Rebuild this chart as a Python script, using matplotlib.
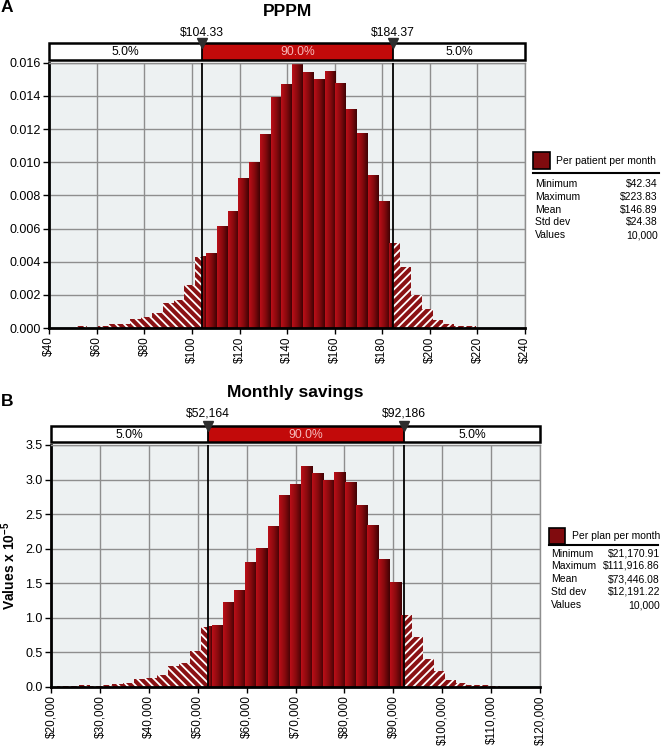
import numpy as np
import matplotlib
matplotlib.use('Agg')
import matplotlib.pyplot as plt
from matplotlib.colors import LinearSegmentedColormap
from matplotlib.patches import Rectangle

plt.rcParams['font.family'] = ['Liberation Sans', 'DejaVu Sans']
plt.rcParams['hatch.linewidth'] = 1.3
plt.rcParams['mathtext.fontset'] = 'custom'
plt.rcParams['mathtext.rm'] = 'Liberation Sans'
plt.rcParams['mathtext.bf'] = 'Liberation Sans:bold'

# ---------------- data ----------------
pppm_min, pppm_max = 42.34, 223.83
pppm_p5, pppm_p95 = 104.33, 184.37
pppm_density = [0.00003, 0.00003, 0.00010, 0.00003, 0.00010, 0.00025, 0.00025, 0.00052,
                0.00068, 0.00093, 0.00149, 0.00169, 0.00260, 0.00430, 0.00450, 0.00610,
                0.00700, 0.00900, 0.01000, 0.01165, 0.01390, 0.01467, 0.01598, 0.01542,
                0.01497, 0.01548, 0.01477, 0.01316, 0.01170, 0.00920, 0.00763, 0.00510,
                0.00366, 0.00199, 0.00113, 0.00048, 0.00024, 0.00012, 0.00012, 0.00003]
pppm_xticks = [40, 60, 80, 100, 120, 140, 160, 180, 200, 220, 240]
pppm_xticklabels = ['$40', '$60', '$80', '$100', '$120', '$140', '$160', '$180', '$200', '$220', '$240']
pppm_yticks = [0.000, 0.002, 0.004, 0.006, 0.008, 0.010, 0.012, 0.014, 0.016]
pppm_yticklabels = ['0.000', '0.002', '0.004', '0.006', '0.008', '0.010', '0.012', '0.014', '0.016']
pppm_p_labels = ['$104.33', '$184.37']
pppm_legend = 'Per patient per month'
pppm_stat_names = ['Minimum', 'Maximum', 'Mean', 'Std dev', 'Values']
pppm_stat_values = ['$42.34', '$223.83', '$146.89', '$24.38', '10,000']

sav_min, sav_max = 21170.91, 111916.86
sav_p5, sav_p95 = 52164, 92186
sav_density = [0.01, 0.01, 0.025, 0.01, 0.02, 0.035, 0.05, 0.107, 0.13, 0.17,
               0.30, 0.34, 0.51, 0.87, 0.894, 1.22, 1.40, 1.81, 2.005, 2.33,
               2.78, 2.93, 3.19, 3.09, 2.99, 3.10, 2.96, 2.63, 2.34, 1.84,
               1.51, 1.04, 0.725, 0.40, 0.23, 0.097, 0.05, 0.025, 0.025, 0.01]
sav_xticks = [20000, 30000, 40000, 50000, 60000, 70000, 80000, 90000, 100000, 110000, 120000]
sav_xticklabels = ['$20,000', '$30,000', '$40,000', '$50,000', '$60,000', '$70,000',
                   '$80,000', '$90,000', '$100,000', '$110,000', '$120,000']
sav_yticks = [0.0, 0.5, 1.0, 1.5, 2.0, 2.5, 3.0, 3.5]
sav_yticklabels = ['0.0', '0.5', '1.0', '1.5', '2.0', '2.5', '3.0', '3.5']
sav_p_labels = ['$52,164', '$92,186']
sav_legend = 'Per plan per month'
sav_stat_names = ['Minimum', 'Maximum', 'Mean', 'Std dev', 'Values']
sav_stat_values = ['$21,170.91', '$111,916.86', '$73,446.08', '$12,191.22', '10,000']

tail_pct = ['5.0%', '90.0%', '5.0%']

# ---------------- layout helpers ----------------
W, H = 661, 746
fig = plt.figure(figsize=(W / 100, H / 100), dpi=100)

def fx(px):
    return px / W

def fy(py):
    return 1 - py / H

grad_cmap = LinearSegmentedColormap.from_list('bar', ['#bb0f18', '#880a0e', '#400204'])
grad = np.linspace(0, 1, 64).reshape(1, -1)
HATCH_FC = '#8a1214'
GRID = '#8e8e8e'
BG = '#edf1f2'
FS = 8.7


def draw_panel(left, right, top, bottom, box_top, box_bot, vmin, vmax, dens, p5, p95,
               xticks, xtl, yticks, ytl, ylim, plabels, plabel_y, title, title_y,
               letter, letter_y):
    ax = fig.add_axes([fx(left), fy(bottom), fx(right) - fx(left), fy(top) - fy(bottom)])
    ax.set_facecolor(BG)
    n = len(dens)
    edges = vmin + (vmax - vmin) / n * np.arange(n + 1)
    for i, h in enumerate(dens):
        a, b = edges[i], edges[i + 1]
        lo, hi = a, min(b, p5)
        if hi > lo:
            ax.add_patch(Rectangle((lo, 0), hi - lo, h, facecolor=HATCH_FC, edgecolor='white',
                                   linewidth=0, hatch='\\\\\\\\', zorder=2))
        lo, hi = max(a, p5), min(b, p95)
        if hi > lo:
            ax.imshow(grad, extent=[lo, hi, 0, h], aspect='auto', cmap=grad_cmap,
                      interpolation='bilinear', zorder=2)
        lo, hi = max(a, p95), b
        if hi > lo:
            ax.add_patch(Rectangle((lo, 0), hi - lo, h, facecolor=HATCH_FC, edgecolor='white',
                                   linewidth=0, hatch='////', zorder=2))
    ax.set_xlim(xticks[0], xticks[-1])
    ax.set_ylim(*ylim)
    ax.set_aspect('auto')
    ax.set_xticks(xticks)
    ax.set_xticklabels(xtl, rotation=90, fontsize=8.5)
    ax.set_yticks(yticks)
    ax.set_yticklabels(ytl, fontsize=9)
    ax.grid(True, color=GRID, linewidth=1, zorder=1)
    ax.set_axisbelow(True)
    ax.tick_params(direction='out', length=4, width=1, color='black', pad=2)
    for s in ['left', 'bottom']:
        ax.spines[s].set_linewidth(2)
        ax.spines[s].set_color('black')
    for s in ['top', 'right']:
        ax.spines[s].set_linewidth(1)
        ax.spines[s].set_color(GRID)
    ax.axvline(p5, color='black', linewidth=1.3, zorder=5)
    ax.axvline(p95, color='black', linewidth=1.3, zorder=5)

    # percentile box
    bax = fig.add_axes([fx(left), fy(box_bot), fx(right) - fx(left), fy(box_top) - fy(box_bot)])
    bax.set_xlim(xticks[0], xticks[-1])
    bax.set_ylim(0, 1)
    bax.axis('off')
    x0, x1 = xticks[0], xticks[-1]
    bax.add_patch(Rectangle((x0, 0), p5 - x0, 1, facecolor='white', edgecolor='none'))
    bax.add_patch(Rectangle((p5, 0), p95 - p5, 1, facecolor='#c20a0a', edgecolor='none'))
    bax.add_patch(Rectangle((p95, 0), x1 - p95, 1, facecolor='white', edgecolor='none'))
    bax.add_patch(Rectangle((x0, 0), x1 - x0, 1, facecolor='none', edgecolor='black',
                            linewidth=1.8, clip_on=False))
    bax.plot([p5, p5], [0, 1], color='black', lw=1.3)
    bax.plot([p95, p95], [0, 1], color='black', lw=1.3)
    bax.text((x0 + p5) / 2, 0.45, tail_pct[0], ha='center', va='center', fontsize=FS)
    bax.text((p5 + p95) / 2, 0.45, tail_pct[1], ha='center', va='center', fontsize=FS,
             color='#f6b8b8')
    bax.text((p95 + x1) / 2, 0.45, tail_pct[2], ha='center', va='center', fontsize=FS)
    bax.plot([p5, p95], [1, 1], linestyle='none', marker='v', markersize=7.5,
             color='#2e2e2e', clip_on=False, zorder=6)
    for p, lab in zip([p5, p95], plabels):
        xf = fig.transFigure.inverted().transform(bax.transData.transform((p, 0)))[0]
        fig.text(xf, fy(plabel_y), lab, ha='center', va='center', fontsize=FS)
    fig.text(fx((left + right) / 2), fy(title_y), title, ha='center', va='center',
             fontsize=12.5, fontweight='bold')
    fig.text(fx(1), fy(letter_y), letter, ha='left', va='center', fontsize=12.5,
             fontweight='bold')
    return ax


def draw_legend(sq_x, sq_y, sq_s, text_x, line_y, line_x1, rows_y, label_x, value_x,
                title, names, values):
    fig.patches.append(Rectangle((fx(sq_x), fy(sq_y + sq_s)), sq_s / W, sq_s / H,
                                 transform=fig.transFigure, facecolor='#800b0e',
                                 edgecolor='black', linewidth=1.2))
    fig.text(fx(text_x), fy(sq_y + sq_s / 2), title, ha='left', va='center', fontsize=7.5)
    fig.add_artist(plt.Line2D([fx(sq_x), fx(line_x1)], [fy(line_y), fy(line_y)],
                              color='black', linewidth=1.5, transform=fig.transFigure))
    for yy, nm, vv in zip(rows_y, names, values):
        fig.text(fx(label_x), fy(yy), nm, ha='left', va='center', fontsize=7.5)
        fig.text(fx(value_x), fy(yy), vv, ha='right', va='center', fontsize=7.5)


ax1 = draw_panel(49.3, 525, 62.7, 328, 43, 60, pppm_min, pppm_max, pppm_density,
                 pppm_p5, pppm_p95, pppm_xticks, pppm_xticklabels, pppm_yticks,
                 pppm_yticklabels, (0, 0.016), pppm_p_labels, 33, 'PPPM', 11, 'A', 7)
draw_legend(533, 152, 17, 556, 173, 659, [184, 197, 210, 222, 235], 535, 658,
            pppm_legend, pppm_stat_names, pppm_stat_values)

ax2 = draw_panel(51, 540, 445, 686.7, 426, 442, sav_min, sav_max, sav_density,
                 sav_p5, sav_p95, sav_xticks, sav_xticklabels, sav_yticks,
                 sav_yticklabels, (0, 3.5), sav_p_labels, 414, 'Monthly savings', 392,
                 'B', 401)
ax2.set_ylabel(r'Values x 10$^{\mathbf{-5}}$', fontsize=10, fontweight='bold')
ax2.yaxis.set_label_coords((18 - 51) / 489, 0.5)
draw_legend(549, 528, 16, 572, 545, 658, [554, 566, 579, 592, 605], 551, 660,
            sav_legend, sav_stat_names, sav_stat_values)

fig.savefig('out.png', dpi=100)
